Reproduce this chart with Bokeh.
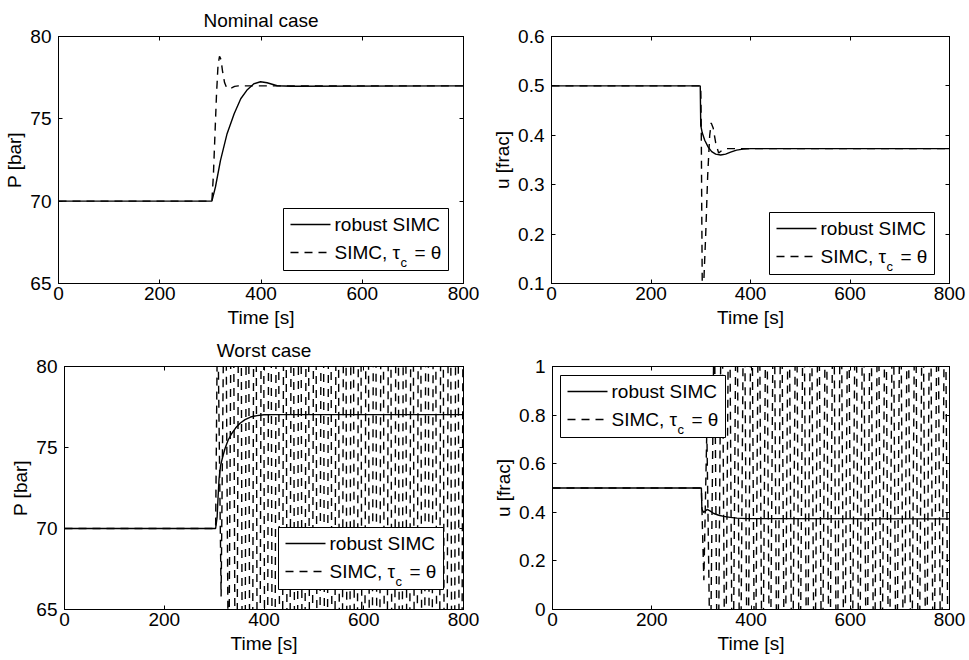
from bokeh.plotting import figure
from bokeh.layouts import column, row
from bokeh.models import Range1d, LinearAxis, FixedTicker, Label, BoxAnnotation
from bokeh.embed import file_html
from bokeh.resources import INLINE

FONT = "Liberation Sans"
FS = "19px"

# ---------------- tick labels ----------------
x_ticks = [0, 200, 400, 600, 800]
p_ticks = [65, 70, 75, 80]
u_nom_ticks = [0.1, 0.2, 0.3, 0.4, 0.5, 0.6]
u_worst_ticks = [0, 0.2, 0.4, 0.6, 0.8, 1]

# ---------------- nominal case: pressure ----------------
t_nom_P_robust = [0, 303, 310, 320, 333, 347, 360, 373, 386, 399, 412, 432, 460, 800]
P_nom_robust = [70, 70, 70.86, 72.48, 74.1, 75.31, 76.22, 76.77, 77.13, 77.25, 77.19, 77.01, 76.98, 77.0]

t_nom_P_simc = [0, 303, 306, 309, 312, 315, 318, 321, 324, 328, 332, 337, 342, 348, 355, 800]
P_nom_simc = [70, 70, 71.6, 74.0, 76.4, 78.2, 78.8, 78.6, 77.9, 77.2, 76.9, 76.82, 76.88, 76.97, 77.0, 77.0]

# ---------------- nominal case: valve ----------------
t_nom_u_robust = [0, 299, 300, 303, 308, 315, 322, 330, 340, 350, 360, 372, 385, 400, 800]
u_nom_robust = [0.5, 0.5, 0.42, 0.405, 0.39, 0.376, 0.367, 0.362, 0.360, 0.362, 0.366, 0.370, 0.372, 0.373, 0.373]

t_nom_u_simc = [0, 300, 301, 302, 303, 304, 306, 310, 314, 318, 321, 325, 330, 336, 342, 350, 800]
u_nom_simc = [0.5, 0.5, 0.42, 0.25, 0.1, 0.06, 0.1, 0.2, 0.32, 0.40, 0.425, 0.415, 0.385, 0.364, 0.369, 0.373, 0.373]

# ---------------- worst case: pressure ----------------
t_worst_P_robust = [0, 303, 306, 308, 310, 313, 317, 322, 328, 335, 343, 352, 362, 373, 386, 400, 420, 800]
P_worst_robust = [70, 70, 70.7, 72.0, 73.1, 73.9, 74.4, 74.95, 75.45, 75.85, 76.2, 76.5, 76.72, 76.88, 76.97, 77.02, 77.03, 77.03]

t_worst_P_simc = [0, 303,
                  307, 314, 322, 329, 337, 344, 352, 359, 367, 374,
                  382, 389, 397, 404, 412, 419, 427, 434, 442, 449,
                  457, 464, 472, 479, 487, 494, 502, 509, 517, 524,
                  532, 539, 547, 554, 562, 569, 577, 584, 592, 599,
                  607, 614, 622, 629, 637, 644, 652, 659, 667, 674,
                  682, 689, 697, 704, 712, 719, 727, 734, 742, 749,
                  757, 764, 772, 779, 787, 794,
                  800]
P_worst_simc = [70, 70,
                84, 65.8, 92, 58, 100, 45, 110, 30, 110, 30,
                110, 30, 110, 30, 110, 30, 110, 30, 110, 30,
                110, 30, 110, 30, 110, 30, 110, 30, 110, 30,
                110, 30, 110, 30, 110, 30, 110, 30, 110, 30,
                110, 30, 110, 30, 110, 30, 110, 30, 110, 30,
                110, 30, 110, 30, 110, 30, 110, 30, 110, 30,
                110, 30, 110, 30, 110, 30,
                94]

# ---------------- worst case: valve ----------------
t_worst_u_robust = [0, 300, 301, 304, 308, 312, 318, 325, 335, 345, 358, 372, 390, 800]
u_worst_robust = [0.5, 0.5, 0.415, 0.4, 0.405, 0.412, 0.405, 0.395, 0.388, 0.383, 0.379, 0.376, 0.374, 0.373]

t_worst_u_simc = [0, 300,
                  305, 311, 318, 326, 333, 341, 348, 356, 363, 371,
                  378, 386, 393, 401, 408, 416, 423, 431, 438, 446,
                  453, 461, 468, 476, 483, 491, 498, 506, 513, 521,
                  528, 536, 543, 551, 558, 566, 573, 581, 588, 596,
                  603, 611, 618, 626, 633, 641, 648, 656, 663, 671,
                  678, 686, 693, 701, 708, 716, 723, 731, 738, 746,
                  753, 761, 768, 776, 783, 791, 798,
                  800]
u_worst_simc = [0.5, 0.5,
                0.12, 0.74, -0.3, 1.3, -0.6, 1.6, -0.6, 1.6, -0.6, 1.6,
                -0.6, 1.6, -0.6, 1.6, -0.6, 1.6, -0.6, 1.6, -0.6, 1.6,
                -0.6, 1.6, -0.6, 1.6, -0.6, 1.6, -0.6, 1.6, -0.6, 1.6,
                -0.6, 1.6, -0.6, 1.6, -0.6, 1.6, -0.6, 1.6, -0.6, 1.6,
                -0.6, 1.6, -0.6, 1.6, -0.6, 1.6, -0.6, 1.6, -0.6, 1.6,
                -0.6, 1.6, -0.6, 1.6, -0.6, 1.6, -0.6, 1.6, -0.6, 1.6,
                -0.6, 1.6, -0.6, 1.6, -0.6, 1.6, -0.6,
                0.0]

legend_labels = ["robust SIMC", "SIMC, τ"]
legend_sub = "c"
legend_tail = "= θ"

DASH = "8 6"
LW = 1.4
X_RANGE = (0, 800)
# legend box layout in pixels (relative to the plot frame)
LEG_W, LEG_H = 165, 62


def style_axis(ax, ticks, overrides=None, standoff=2):
    ax.ticker = FixedTicker(ticks=ticks)
    ax.major_tick_in = 4
    ax.major_tick_out = 0
    ax.minor_tick_line_color = None
    ax.axis_line_color = "black"
    ax.major_tick_line_color = "black"
    ax.major_label_text_font = FONT
    ax.major_label_text_font_size = FS
    ax.major_label_text_color = "black"
    ax.axis_label_text_font = FONT
    ax.axis_label_text_font_size = FS
    ax.axis_label_text_font_style = "normal"
    ax.axis_label_text_color = "black"
    ax.major_label_standoff = standoff
    if overrides:
        ax.major_label_overrides = overrides


def make_fig(width, height, ylim, yticks, ylabel, title, borders, yoverrides=None):
    left, right, top, bottom = borders
    kw = {}
    if title:
        kw["title"] = title
    p = figure(width=width, height=height,
               x_range=Range1d(*X_RANGE), y_range=Range1d(*ylim),
               output_backend="svg", toolbar_location=None,
               min_border_left=left, min_border_right=right,
               min_border_top=top, min_border_bottom=bottom, **kw)
    p.background_fill_color = "white"
    p.border_fill_color = "white"
    p.outline_line_color = "black"
    p.outline_line_width = 1
    p.xgrid.visible = False
    p.ygrid.visible = False
    style_axis(p.xaxis[0], x_ticks, standoff=3)
    p.xaxis[0].axis_label = "Time [s]"
    p.xaxis[0].axis_label_standoff = 4
    style_axis(p.yaxis[0], yticks, yoverrides, standoff=7)
    p.yaxis[0].axis_label = ylabel
    p.yaxis[0].axis_label_standoff = 2
    # box ticks on top / right
    top_ax = LinearAxis()
    style_axis(top_ax, x_ticks, {t: "" for t in x_ticks}, standoff=0)
    top_ax.major_label_text_font_size = "1px"
    p.add_layout(top_ax, "above")
    right_ax = LinearAxis()
    style_axis(right_ax, yticks, {t: "" for t in yticks}, standoff=0)
    right_ax.major_label_text_font_size = "1px"
    p.add_layout(right_ax, "right")
    if title:
        p.title.text_font = FONT
        p.title.text_font_size = FS
        p.title.text_font_style = "normal"
        p.title.text_color = "black"
        p.title.align = "center"
        p.title.standoff = 12
    frame = (width - left - right, height - top - bottom)
    return p, frame


def add_curves(p, frame, t_rob, y_rob, t_simc, y_simc, loc, ylim):
    p.line(t_rob, y_rob, line_color="black", line_width=LW)
    p.line(t_simc, y_simc, line_color="black", line_width=LW, line_dash=DASH)
    lx, ly = loc
    fw, fh = frame

    def dx(px):
        return X_RANGE[0] + px / fw * (X_RANGE[1] - X_RANGE[0])

    def dy(px):
        return ylim[0] + px / fh * (ylim[1] - ylim[0])

    # legend: white box with black border, drawn over the curves
    p.add_layout(BoxAnnotation(left=dx(lx), right=dx(lx + LEG_W),
                               bottom=dy(ly), top=dy(ly + LEG_H),
                               fill_color="white", fill_alpha=1,
                               line_color="black", line_alpha=1, line_width=1))
    row1 = ly + LEG_H - 16
    row2 = ly + LEG_H - 44
    # legend keys
    p.line([dx(lx + 7), dx(lx + 47)], [dy(row1), dy(row1)],
           line_color="black", line_width=LW, level="overlay")
    p.line([dx(lx + 7), dx(lx + 47)], [dy(row2), dy(row2)],
           line_color="black", line_width=LW, line_dash=DASH, level="overlay")
    # legend texts
    for txt, yy in ((legend_labels[0], row1), (legend_labels[1], row2)):
        p.add_layout(Label(x=dx(lx + 51), y=dy(yy), text=txt,
                           text_font=FONT, text_font_size=FS,
                           text_baseline="middle", text_color="black"))
    p.add_layout(Label(x=dx(lx + 117), y=dy(row2 - 10),
                       text=legend_sub, text_font=FONT, text_font_size="13px",
                       text_baseline="middle", text_color="black"))
    p.add_layout(Label(x=dx(lx + 131), y=dy(row2),
                       text=legend_tail, text_font=FONT, text_font_size=FS,
                       text_baseline="middle", text_color="black"))


ylim1 = (65, 80)
p1, f1 = make_fig(484, 330, ylim1, p_ticks, "P [bar]", "Nominal case", (58, 21, 36, 47))
add_curves(p1, f1, t_nom_P_robust, P_nom_robust, t_nom_P_simc, P_nom_simc, (225, 13), ylim1)

ylim2 = (0.1, 0.6)
p2, f2 = make_fig(485, 330, ylim2, u_nom_ticks, "u [frac]", None, (67, 20, 36, 47))
add_curves(p2, f2, t_nom_u_robust, u_nom_robust, t_nom_u_simc, u_nom_simc, (218, 9), ylim2)

ylim3 = (65, 80)
p3, f3 = make_fig(484, 330, ylim3, p_ticks, "P [bar]", "Worst case", (64, 21, 36, 51))
add_curves(p3, f3, t_worst_P_robust, P_worst_robust, t_worst_P_simc, P_worst_simc, (214, 20), ylim3)

ylim4 = (0, 1)
p4, f4 = make_fig(485, 330, ylim4, u_worst_ticks, "u [frac]", None, (68, 20, 36, 51),
                  yoverrides={0: "0", 1: "1"})
add_curves(p4, f4, t_worst_u_robust, u_worst_robust, t_worst_u_simc, u_worst_simc, (8, 172), ylim4)

layout = column(row(p1, p2), row(p3, p4))
open("out.html", "w").write(file_html(layout, INLINE, title="SIMC"))
